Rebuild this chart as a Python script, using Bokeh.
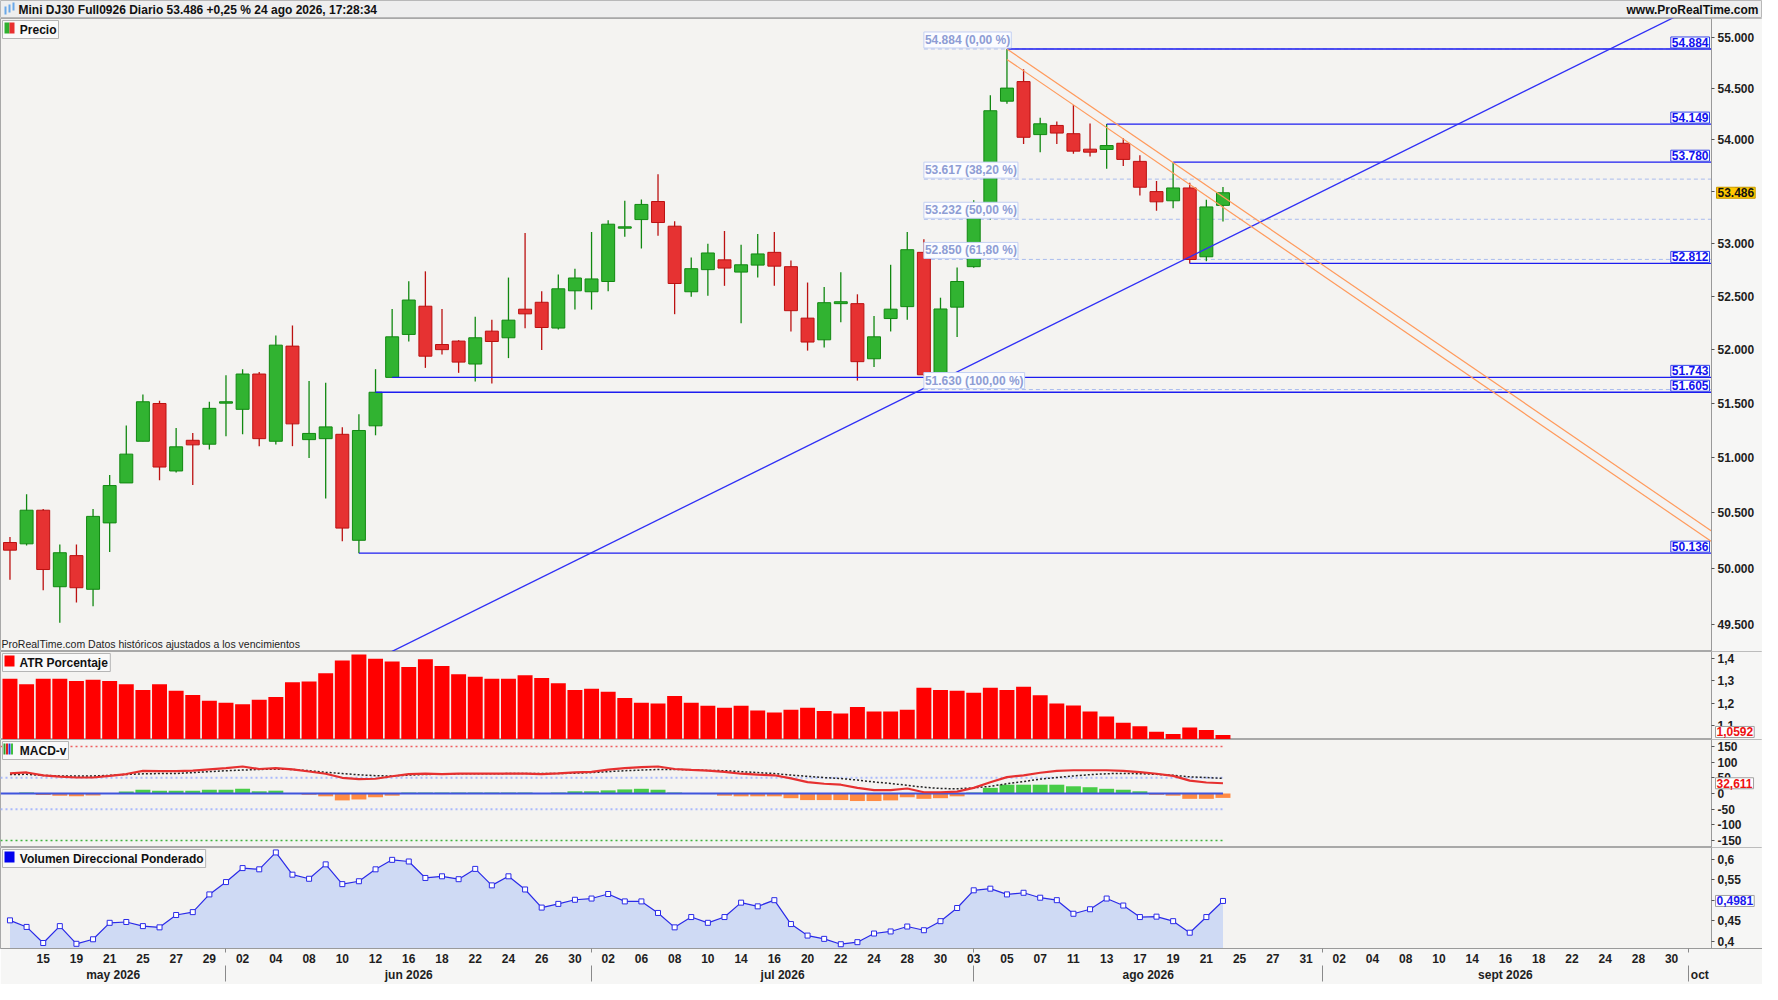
import pandas as pd
from bokeh.plotting import figure
from bokeh.models import (Range1d, FixedTicker, CustomJSTickFormatter, LinearAxis, LogAxis,
                          Label, ColumnDataSource, BoxAnnotation)
from bokeh.layouts import column
from bokeh.embed import file_html
from bokeh.resources import INLINE
from bokeh.core.properties import value

# ---------------- data ----------------
TITLE = "Mini DJ30 Full0926 Diario 53.486 +0,25 % 24 ago 2026, 17:28:34"
SITE = "www.ProRealTime.com"
NOTE = "ProRealTime.com  Datos históricos ajustados a los vencimientos"

OPEN = [50232, 50220, 50524, 49835, 50114, 49812, 50409, 50772, 51153, 51501,
        50881, 51162, 51126, 51504, 51447, 51774, 51153, 52034, 51168, 51177,
        51217, 50252, 51295, 51743, 52143, 52408, 52049, 52081, 51867, 52174,
        52112, 52380, 52445, 52203, 52553, 52544, 52641, 53147, 53229, 53402,
        53166, 52544, 52753, 52846, 52730, 52796, 52917, 52781, 52296, 52093,
        52432, 52432, 51916, 52292, 52404, 52917, 51780, 52399, 52781, 53300,
        54372, 54564, 54047, 54136, 54056, 53906, 53903, 53963, 53788, 53497,
        53409, 53532, 52875, 53365]
HIGH = [50282, 50669, 50536, 50214, 50214, 50536, 50845, 51299, 51583, 51526,
        51274, 51229, 51517, 51762, 51819, 51792, 52133, 52227, 51710, 51692,
        51281, 51401, 51819, 52382, 52644, 52737, 52382, 52090, 52308, 52280,
        52678, 53101, 52550, 52706, 52762, 53110, 53222, 53409, 53421, 53664,
        53213, 52868, 52998, 53119, 52989, 53091, 53110, 52840, 52631, 52588,
        52728, 52520, 52317, 52799, 53110, 53042, 52488, 52774, 53415, 54430,
        54884, 54685, 54210, 54174, 54334, 54155, 54149, 54011, 53846, 53599,
        53780, 53583, 53418, 53542]
LOW = [49897, 50205, 49803, 49513, 49693, 49661, 50146, 50772, 51153, 50796,
       50866, 50754, 51077, 51199, 51217, 51108, 51123, 51108, 50999, 50631,
       50243, 50136, 51208, 51743, 52077, 51831, 51955, 51785, 51704, 51686,
       51922, 52202, 51998, 52190, 52376, 52376, 52550, 53066, 52954, 53076,
       52333, 52497, 52506, 52600, 52249, 52678, 52600, 52171, 51992, 52021,
       52258, 51713, 51840, 52171, 52280, 51758, 51770, 52118, 52770, 53230,
       54347, 53957, 53877, 53957, 53861, 53836, 53717, 53743, 53459, 53313,
       53337, 52812, 52833, 53210]
CLOSE = [50163, 50524, 49989, 50140, 49826, 50468, 50748, 51035, 51517, 50917,
         51102, 51120, 51456, 51517, 51774, 51177, 52043, 51313, 51225, 51285,
         50362, 51252, 51605, 52121, 52466, 51940, 52001, 51885, 52112, 52077,
         52277, 52336, 52208, 52572, 52674, 52665, 53185, 53160, 53374, 53201,
         52622, 52762, 52911, 52768, 52799, 52902, 52786, 52366, 52072, 52441,
         52450, 51889, 52121, 52380, 52942, 51767, 52382, 52641, 53244, 54279,
         54500, 54021, 54152, 54062, 53887, 53877, 53941, 53807, 53539, 53399,
         53532, 52849, 53350, 53486]

ATR = [1.310, 1.285, 1.310, 1.310, 1.300, 1.305, 1.300, 1.285, 1.260, 1.285,
       1.256, 1.237, 1.212, 1.203, 1.196, 1.216, 1.228, 1.294, 1.297, 1.334,
       1.391, 1.418, 1.399, 1.387, 1.362, 1.396, 1.366, 1.330, 1.318, 1.310,
       1.310, 1.325, 1.313, 1.290, 1.260, 1.265, 1.252, 1.224, 1.203, 1.199,
       1.233, 1.203, 1.189, 1.180, 1.189, 1.168, 1.159, 1.172, 1.180, 1.166,
       1.155, 1.184, 1.164, 1.164, 1.171, 1.269, 1.260, 1.256, 1.247, 1.269,
       1.260, 1.274, 1.236, 1.199, 1.191, 1.164, 1.142, 1.114, 1.098, 1.073,
       1.064, 1.093, 1.081, 1.0592]

MACD = [64, 67, 58, 54, 51, 51, 56, 62, 72, 71,
        71, 73, 77, 81, 86, 78, 81, 77, 70, 63,
        50, 46, 47, 55, 62, 63, 62, 63, 63, 63,
        63, 63, 62, 64, 67, 69, 76, 81, 84, 86,
        78, 75, 73, 69, 63, 60, 58, 48, 36, 31,
        28, 18, 11, 11, 16, 4, 4, 6, 18, 36,
        52, 58, 66, 72, 74, 74, 74, 72, 68, 63,
        56, 41, 35, 32.611]
SIGNAL = [60.6, 61, 57.7, 56, 55.7, 56, 57.7, 60.6, 62.6, 63.6,
          63.6, 66.6, 69.6, 72.6, 74.6, 76.6, 77.5, 76.6, 72.6, 67.6,
          63.6, 59.6, 56.7, 55.7, 58.6, 60.6, 61.6, 62.6, 62.6, 62.6,
          63.6, 63.6, 63.6, 63.6, 64.6, 66.6, 69.6, 72.6, 74.6, 76.6,
          76.6, 75.5, 73.6, 72.6, 69.6, 66.6, 63.6, 58.6, 54.7, 50.7,
          47.7, 42.7, 36.8, 32, 26, 20, 16, 15, 18, 23,
          31, 38, 46, 51, 56, 60, 63, 64, 63, 61,
          58, 53, 51, 48]
HIST = [0, 3, -5, -7, -9, -6, 0, 6, 12, 9,
        9, 9, 12, 12, 15, 7, 9, 0, -4, -9,
        -22, -19, -12, -7, 3, 3, 3, 3, 3, 3,
        3, 3, 0, 3, 7, 7, 10, 13, 15, 12,
        3, 0, -2, -7, -9, -9, -9, -15, -21, -21,
        -21, -24, -24, -22, -12, -17, -15, -9, 3, 18,
        28, 28, 28, 28, 23, 20, 15, 12, 7, -4,
        -7, -17, -17, -14]

VDP = [0.451, 0.435, 0.396, 0.437, 0.394, 0.405, 0.445, 0.447, 0.437, 0.434,
       0.464, 0.471, 0.514, 0.544, 0.578, 0.575, 0.616, 0.562, 0.552, 0.587,
       0.539, 0.546, 0.575, 0.598, 0.594, 0.554, 0.558, 0.551, 0.576, 0.536,
       0.558, 0.526, 0.482, 0.491, 0.501, 0.504, 0.515, 0.497, 0.497, 0.469,
       0.434, 0.459, 0.445, 0.459, 0.494, 0.485, 0.500, 0.442, 0.414, 0.406,
       0.393, 0.398, 0.419, 0.424, 0.436, 0.427, 0.449, 0.481, 0.524, 0.528,
       0.514, 0.518, 0.506, 0.500, 0.467, 0.478, 0.504, 0.487, 0.459, 0.460,
       0.449, 0.421, 0.459, 0.4981]

LEVELS = [54884, 54149, 53780, 52812, 51743, 51605, 50136]
LEVEL_FROM = [60, 66, 70, 71, 23, 22, 21]
FIB_LEVELS = [54884, 53617, 53232, 52850, 51630]
FIB_PCTS = [0.0, 38.2, 50.0, 61.8, 100.0]
FIB_FROM = 55
TREND_X = [20, 104]
TREND_Y = [49043, 55511]
CHAN_X = [60, 102.4]
CHAN_UP = [54884, 50336]
CHAN_LO = [54781, 50241]

PRICE_TICKS = [49500, 50000, 50500, 51000, 51500, 52000, 52500, 53000, 53500, 54000, 54500, 55000]
ATR_TICKS = [1.1, 1.2, 1.3, 1.4]
MACD_TICKS = [-150, -100, -50, 0, 50, 100, 150]
MACD_BANDS = [150, 50, -50, -150]
VDP_TICKS = [0.4, 0.45, 0.5, 0.55, 0.6]
MONTHS = ["may 2026", "jun 2026", "jul 2026", "ago 2026", "sept 2026", "oct"]

DATES = pd.bdate_range("2026-05-13", "2026-10-02")

# ---------------- layout ----------------
N = len(CLOSE)
IDX = list(range(N))
W = 1762
BG = "#f4f3f1"
AXBG = "#f6f6f5"
FONT = "Liberation Sans"
X0 = -0.57
XEND = 102.4           # position of the price axis
AXW = 51               # width of the axis column in px
PXK = (W - AXW) / (XEND - X0)
xr = Range1d(X0, X0 + W / PXK)


def fmt_th(v):
    return f"{int(round(v)):,}".replace(",", ".")


def make_fig(height, y_range, axis_cls=LinearAxis, **kw):
    f = figure(width=W, height=height, x_range=xr, y_range=y_range,
               toolbar_location=None, output_backend="svg",
               x_axis_location=None, y_axis_location=None,
               min_border_left=0, min_border_right=0, min_border_top=0, min_border_bottom=0,
               background_fill_color=BG, border_fill_color=AXBG,
               outline_line_color="#a8a8a8", **kw)
    f.grid.visible = False
    f.add_layout(BoxAnnotation(left=XEND, fill_color=AXBG, fill_alpha=1.0,
                               line_color=None, level="underlay"))
    ax = axis_cls(fixed_location=XEND)
    ax.axis_line_color = "#9a9a9a"
    ax.major_tick_line_color = "#555555"
    ax.major_tick_in = 0
    ax.major_tick_out = 3
    ax.minor_tick_line_color = None
    ax.major_label_standoff = 3
    ax.major_label_text_font = FONT
    ax.major_label_text_font_style = "bold"
    ax.major_label_text_font_size = "12px"
    ax.major_label_text_color = "#1e1e1e"
    f.add_layout(ax, "right")
    return f, ax


def label(fig, x, y, text, color="#111111", bg=None, border=None, align="left",
          baseline="middle", xo=0, yo=0, size="12px", style="bold", pad=1):
    fig.add_layout(Label(x=x, y=y, text=text, text_color=color, text_font=FONT,
                         text_font_style=style, text_font_size=size, text_align=align,
                         text_baseline=baseline, x_offset=xo, y_offset=yo,
                         background_fill_color=bg, border_line_color=border, padding=pad))


def legend(fig, text, icons):
    top = fig.y_range.end
    label(fig, X0, top, "\u2003 " + text, color="#111111", bg="#f9f9f9",
          border="#b5b5b5", baseline="top", xo=2, yo=-2, pad=2)
    for (xo, col, ch) in icons:
        label(fig, X0, top, ch, bg=col, border=None, baseline="top",
              xo=xo, yo=-4, size="10px", pad=0)


# header
h = figure(width=W, height=18, x_range=Range1d(0, W), y_range=Range1d(0, 18),
           toolbar_location=None, output_backend="svg", x_axis_location=None,
           y_axis_location=None, min_border=0, background_fill_color="#eeeeee",
           border_fill_color="#eeeeee", outline_line_color="#b8b8b8")
h.grid.visible = False
h.text(x=[18], y=[9], text=[TITLE], text_font=value(FONT), text_font_style="bold",
       text_font_size="12px", text_baseline="middle", text_color="#111111")
h.text(x=[W - 4], y=[9], text=[SITE], text_font=value(FONT), text_font_style="bold",
       text_font_size="12px", text_baseline="middle", text_align="right", text_color="#111111")
h.vbar(x=[5, 9, 13], top=[12, 14, 16], bottom=[4, 6, 8], width=2,
       fill_color="#6aa8e8", line_color=None)

# main price panel
p, pax = make_fig(633, Range1d(49259, 55185), axis_cls=LogAxis, y_axis_type="log")
pax.ticker = FixedTicker(ticks=PRICE_TICKS)
pax.formatter = CustomJSTickFormatter(
    code=r"return Math.round(tick).toString().replace(/\B(?=(\d{3})+(?!\d))/g, '.');")

inc = [c >= o for o, c in zip(OPEN, CLOSE)]
src = ColumnDataSource(dict(
    x=IDX, h=HIGH, l=LOW,
    top=[max(o, c) for o, c in zip(OPEN, CLOSE)],
    bot=[min(o, c) for o, c in zip(OPEN, CLOSE)],
    fill=["#31b331" if u else "#e63232" for u in inc],
    line=["#118811" if u else "#bb1111" for u in inc],
))

for lv in FIB_LEVELS:
    p.segment(x0=FIB_FROM, y0=lv, x1=XEND, y1=lv, line_color="#aabcee",
              line_width=1, line_dash="4 3")

p.segment(x0="x", y0="h", x1="x", y1="l", line_color="line", line_width=1.3, source=src)
p.vbar(x="x", top="top", bottom="bot", width=0.78, fill_color="fill", line_color="line",
       line_width=1, source=src)

for lv, k0 in zip(LEVELS, LEVEL_FROM):
    p.segment(x0=k0, y0=lv, x1=XEND, y1=lv, line_color="#1c1cf0", line_width=1.3)

p.line(TREND_X, TREND_Y, line_color="#2f2ff5", line_width=1.3)
p.line(CHAN_X, CHAN_UP, line_color="#ff9a5c", line_width=1.2)
p.line(CHAN_X, CHAN_LO, line_color="#ff9a5c", line_width=1.2)

for lv, pc in zip(FIB_LEVELS, FIB_PCTS):
    txt = fmt_th(lv) + " (" + f"{pc:.2f}".replace(".", ",") + " %)"
    label(p, FIB_FROM, lv, txt, color="#8e9dd4", bg="#fbfcff", border="#c4d0f3",
          baseline="bottom", yo=1, pad=1)

for lv in LEVELS:
    label(p, XEND, lv, fmt_th(lv), color="#1010ee", bg="#ffffff", border="#3545e8",
          align="right", baseline="bottom", xo=-2, yo=1, pad=1)

label(p, XEND, CLOSE[-1], fmt_th(CLOSE[-1]), color="#111111", bg="#ffc800",
      border="#c99a00", xo=5, pad=1)
label(p, X0, p.y_range.start, NOTE, color="#222222", baseline="bottom",
      xo=1, yo=2, size="10.5px", style="normal", pad=0)
legend(p, "Precio", [(4, "#2fb02f", "\u2002"), (9, "#e83030", "\u2002")])

# ATR panel
a, aax = make_fig(88, Range1d(1.039, 1.431))
aax.ticker = FixedTicker(ticks=ATR_TICKS)
aax.formatter = CustomJSTickFormatter(code="return tick.toFixed(1).replace('.', ',');")
a.vbar(x=IDX, top=ATR, bottom=1.0, width=0.9, fill_color="#ff0000", line_color=None)
label(a, XEND, ATR[-1], f"{ATR[-1]:.4f}".replace(".", ","), color="#ee1111",
      bg="#ffffff", border="#a0a0a0", xo=4, yo=3, pad=1)
legend(a, "ATR Porcentaje", [(4, "#ff0000", "\u2003")])

# MACD-v panel
m, max_ = make_fig(108, Range1d(-172, 172))
max_.ticker = FixedTicker(ticks=MACD_TICKS)
max_.formatter = CustomJSTickFormatter(code="return tick.toFixed(0);")
band_cols = ["#ee6060", "#a9b9fb", "#a9b9fb", "#3fb53f"]
band_w = [1.5, 2, 2, 1.5]
for lv, col, lw in zip(MACD_BANDS, band_cols, band_w):
    m.line([X0, N - 1], [lv, lv], line_color=col, line_width=lw, line_dash="2 3")
m.vbar(x=IDX, top=HIST, bottom=0, width=0.9,
       fill_color=["#47cc47" if v > 0 else "#ff8a42" for v in HIST], line_color=None)
m.line([X0, N - 1], [0, 0], line_color="#3f55dd", line_width=1.8)
m.line(IDX, SIGNAL, line_color="#222222", line_width=1.5, line_dash="2 2")
m.line(IDX, MACD, line_color="#e63030", line_width=2.2)
label(m, XEND, MACD[-1], f"{MACD[-1]:.3f}".replace(".", ","), color="#ee1111",
      bg="#ffffff", border="#a0a0a0", xo=4, pad=1)
legend(m, "MACD-v", [(3, "#2e9e2e", "\u2009"), (5.5, "#e02020", "\u2009"),
                     (8, "#2040e0", "\u2009"), (10.5, "#40c040", "\u2009")])

# Volumen Direccional Ponderado panel + x axes
v, vax = make_fig(137, Range1d(0.3826, 0.628))
vax.ticker = FixedTicker(ticks=VDP_TICKS)
vax.formatter = CustomJSTickFormatter(
    code="return (Math.round(tick*100)/100).toString().replace('.', ',');")
v.varea(x=IDX, y1=VDP, y2=0.3, fill_color="#cfdaf4")
v.line(IDX, VDP, line_color="#2a2ae8", line_width=1.2)
v.scatter(IDX, VDP, marker="square", size=5, fill_color="#ffffff", line_color="#2a2ae8",
          line_width=1)
label(v, XEND, VDP[-1], f"{VDP[-1]:.4f}".replace(".", ","), color="#1a1aee",
      bg="#ffffff", border="#a0a0a0", xo=4, pad=1)
legend(v, "Volumen Direccional Ponderado", [(4, "#0000ee", "\u2003")])

bounds = [k for k in range(1, len(DATES)) if DATES[k].month != DATES[k - 1].month]
edges = [X0] + bounds + [XEND]
centers = [round((edges[i] + edges[i + 1]) / 2, 2) for i in range(len(edges) - 1)]
day_ticks = list(range(2, len(DATES) - 1, 2))
day_labels = {k: DATES[k].strftime("%d") for k in day_ticks}
month_labels = {c: t for c, t in zip(centers, MONTHS)}

ax1 = LinearAxis(ticker=FixedTicker(ticks=day_ticks, minor_ticks=bounds),
                 major_label_overrides=day_labels)
ax2 = LinearAxis(ticker=FixedTicker(ticks=centers, minor_ticks=bounds),
                 major_label_overrides=month_labels)
for ax in (ax1, ax2):
    ax.major_tick_line_color = None
    ax.major_tick_in = 0
    ax.major_tick_out = 0
    ax.minor_tick_in = 0
    ax.minor_tick_line_color = "#8a8a8a"
    ax.major_label_text_font = FONT
    ax.major_label_text_font_style = "bold"
    ax.major_label_text_font_size = "12px"
    ax.major_label_text_color = "#1e1e1e"
ax1.minor_tick_out = 4
ax1.major_label_standoff = 1
ax1.axis_line_color = "#9a9a9a"
ax2.minor_tick_out = 16
ax2.major_label_standoff = -14
ax2.axis_line_color = None
v.add_layout(ax1, "below")
v.add_layout(ax2, "below")

layout = column(h, p, a, m, v, spacing=0)
open("out.html", "w").write(file_html(layout, INLINE))
